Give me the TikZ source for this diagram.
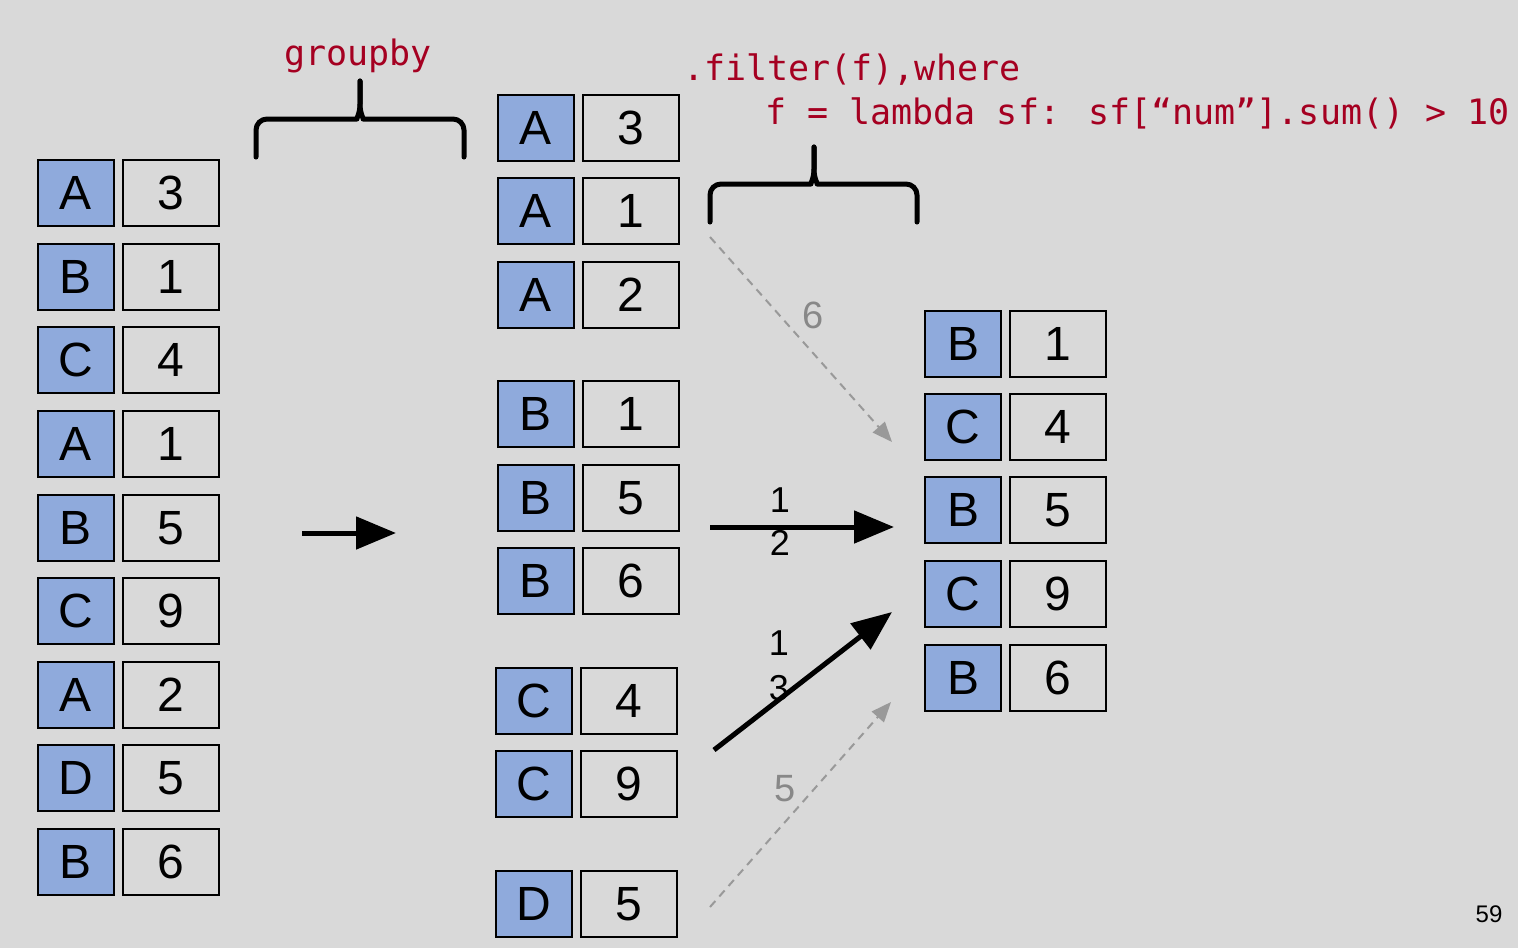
\documentclass[tikz,border=0pt]{standalone}
\usepackage{fontspec}
\setmainfont{Liberation Sans}
\newfontfamily\codefont{DejaVu Sans Mono}
\usetikzlibrary{arrows.meta}
\definecolor{slidebg}{RGB}{217,217,217}
\definecolor{keyblue}{RGB}{143,170,220}
\definecolor{codered}{RGB}{165,0,33}
\definecolor{ghost}{RGB}{153,153,153}
\definecolor{ghosttext}{RGB}{136,136,136}

% one key/value row: name, centre x of key box, centre y, key, value
\newcommand\cellpair[5]{%
  \node[keybox] (#1k) at (#2,#3) {#4};
  \node[valbox] (#1v) at (#2+95,#3) {#5};}

\begin{document}
\begin{tikzpicture}[x=1pt,y=-1pt,
  keybox/.style={draw=black, fill=keyblue, line width=1.8pt,
    minimum width=76pt, minimum height=66pt, inner sep=0pt,
    font=\fontsize{48}{48}\selectfont},
  valbox/.style={keybox, fill=none, minimum width=96pt},
  bracestyle/.style={line width=5pt, line cap=round, line join=round},
  bigarrow/.style={line width=5pt, -{Triangle[length=40pt,width=32pt]}},
  ghostarrow/.style={ghost, line width=2pt, dash pattern=on 8pt off 6pt,
    -{Triangle[length=20pt,width=16pt]}},
  lbl/.style={inner sep=0pt, font=\fontsize{36}{36}\selectfont},
  ghostlbl/.style={lbl, text=ghosttext, font=\fontsize{38}{38}\selectfont},
  code/.style={inner sep=0pt, text=codered, font=\codefont\fontsize{35}{35}\selectfont}
]
\useasboundingbox (0,0) rectangle (1518,948);
\fill[slidebg] (0,0) rectangle (1518,948);

% input frame
\cellpair{L1}{76}{193}{A}{3}
\cellpair{L2}{76}{277}{B}{1}
\cellpair{L3}{76}{360}{C}{4}
\cellpair{L4}{76}{444}{A}{1}
\cellpair{L5}{76}{528}{B}{5}
\cellpair{L6}{76}{611}{C}{9}
\cellpair{L7}{76}{695}{A}{2}
\cellpair{L8}{76}{778}{D}{5}
\cellpair{L9}{76}{862}{B}{6}

% groups
\cellpair{GA1}{536}{128}{A}{3}
\cellpair{GA2}{536}{211}{A}{1}
\cellpair{GA3}{536}{295}{A}{2}
\cellpair{GB1}{536}{414}{B}{1}
\cellpair{GB2}{536}{498}{B}{5}
\cellpair{GB3}{536}{581}{B}{6}
\cellpair{GC1}{534}{701}{C}{4}
\cellpair{GC2}{534}{784}{C}{9}
\cellpair{GD1}{534}{904}{D}{5}

% filtered result
\cellpair{R1}{963}{344}{B}{1}
\cellpair{R2}{963}{427}{C}{4}
\cellpair{R3}{963}{510}{B}{5}
\cellpair{R4}{963}{594}{C}{9}
\cellpair{R5}{963}{678}{B}{6}

% groupby label and brace
\node[code, anchor=base] (gbtext) at (358,65) {groupby};
\draw[bracestyle] (256,157) {[rounded corners=11pt] -- (256,119) -- (346,119)}
  .. controls (356,119) and (360,114) .. (360,104) -- (360,81);
\draw[bracestyle] (464,157) {[rounded corners=11pt] -- (464,119) -- (374,119)}
  .. controls (364,119) and (360,114) .. (360,104) -- (360,81);

% filter label and brace
\node[code, anchor=base west] (ftext1) at (683,80) {.filter(f),where};
\node[code, anchor=base west] (ftext2) at (765,124) {f = lambda sf: sf[“num”].sum() > 10};
\draw[bracestyle] (710,222) {[rounded corners=11pt] -- (710,184) -- (800,184)}
  .. controls (810,184) and (814,179) .. (814,169) -- (814,147);
\draw[bracestyle] (917,222) {[rounded corners=11pt] -- (917,184) -- (828,184)}
  .. controls (818,184) and (814,179) .. (814,169) -- (814,147);

% groupby arrow
\coordinate (gbfrom) at (302,533);
\coordinate (gbto) at (396,533);
\draw[bigarrow] (gbfrom) -- (gbto);

% group A is dropped (sum 6)
\coordinate (afrom) at (710,237);
\coordinate (ato) at (892,442);
\draw[ghostarrow] (afrom) -- (ato);
\node[ghostlbl] (asum) at (813,315) {6};

% group B is kept (sum 12)
\coordinate (bfrom) at (710,527);
\coordinate (bto) at (894,527);
\draw[bigarrow] (bfrom) -- (bto);
\node[lbl] (bsum1) at (780,500) {1};
\node[lbl] (bsum2) at (780,543) {2};

% group C is kept (sum 13)
\coordinate (cfrom) at (714,750);
\coordinate (cto) at (892,612);
\draw[bigarrow] (cfrom) -- (cto);
\node[lbl] (csum1) at (779,643) {1};
\node[lbl] (csum2) at (779,688) {3};

% group D is dropped (sum 5)
\coordinate (dfrom) at (710,907);
\coordinate (dto) at (891,702);
\draw[ghostarrow] (dfrom) -- (dto);
\node[ghostlbl] (dsum) at (785,789) {5};

% slide number
\node[inner sep=0pt, font=\fontsize{24}{24}\selectfont] (pageno) at (1489,914) {59};
\end{tikzpicture}
\end{document}
